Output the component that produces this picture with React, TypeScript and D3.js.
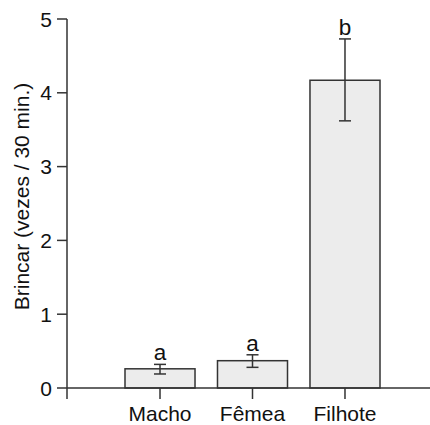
import React from "react";
import * as d3 from "d3";

const categories = ["Macho", "Fêmea", "Filhote"];
const means = [0.26, 0.37, 4.17];
const errLow = [0.19, 0.28, 3.62];
const errHigh = [0.32, 0.45, 4.73];
const letters = ["a", "a", "b"];
const yTicks = [0, 1, 2, 3, 4, 5];

export default function App() {
  const W = 430, H = 425;
  const axisX = 67;
  const y = d3.scaleLinear().domain([0, 5]).range([388, 19]);
  const x = d3.scaleBand<string>().domain(categories).range([125, 380]).paddingInner(0.243).paddingOuter(0);
  const font = "Liberation Sans, Arial, sans-serif";
  const stroke = "#333";
  return (
    <svg width={W} height={H} style={{ position: "absolute", left: 0, top: 0 }} fontFamily={font}>
      <rect width={W} height={H} fill="#fff" />
      {categories.map((c, i) => {
        const bx = x(c)!;
        const bw = x.bandwidth();
        const cx = bx + bw / 2;
        return (
          <g key={c}>
            <rect x={bx} y={y(means[i])} width={bw} height={y(0) - y(means[i])} fill="#ececec" stroke={stroke} strokeWidth={1.5} />
            <line x1={cx} x2={cx} y1={y(errLow[i])} y2={y(errHigh[i])} stroke={stroke} strokeWidth={1.5} />
            <line x1={cx - 6} x2={cx + 6} y1={y(errLow[i])} y2={y(errLow[i])} stroke={stroke} strokeWidth={1.5} />
            <line x1={cx - 6} x2={cx + 6} y1={y(errHigh[i])} y2={y(errHigh[i])} stroke={stroke} strokeWidth={1.5} />
            <text x={cx} y={y(errHigh[i]) - 4} textAnchor="middle" fontSize={22.5} fill="#111">{letters[i]}</text>
            <line x1={cx} x2={cx} y1={y(0)} y2={y(0) + 11} stroke={stroke} strokeWidth={1.5} />
            <text x={cx} y={421} textAnchor="middle" fontSize={21} fill="#111">{c}</text>
          </g>
        );
      })}
      <line x1={axisX} x2={axisX} y1={y(5)} y2={y(0) + 11} stroke={stroke} strokeWidth={1.5} />
      <line x1={axisX} x2={W} y1={y(0)} y2={y(0)} stroke={stroke} strokeWidth={1.5} />
      {yTicks.map((t) => (
        <g key={t}>
          <line x1={axisX - 10} x2={axisX} y1={y(t)} y2={y(t)} stroke={stroke} strokeWidth={1.5} />
          <text x={axisX - 15} y={y(t)} dy="0.36em" textAnchor="end" fontSize={21} fill="#111">{t}</text>
        </g>
      ))}
      <text transform={`translate(29, ${(y(0) + y(5)) / 2 - 7}) rotate(-90)`} textAnchor="middle" fontSize={21} fill="#111">
        Brincar (vezes / 30 min.)
      </text>
    </svg>
  );
}
